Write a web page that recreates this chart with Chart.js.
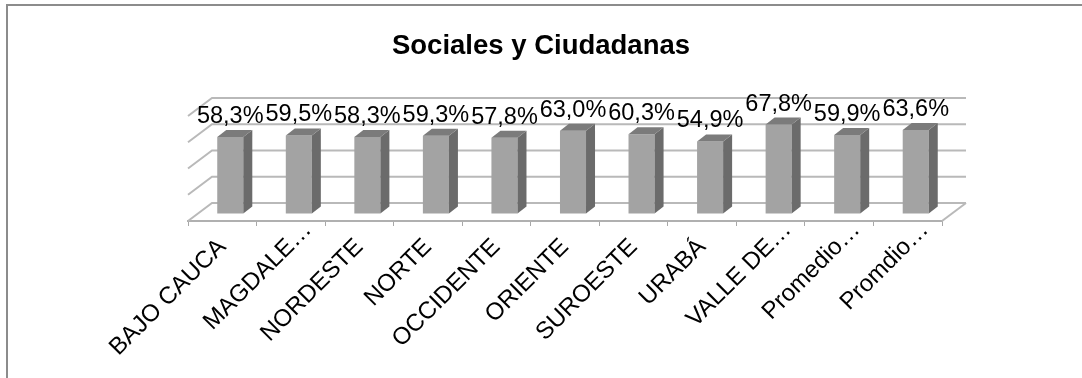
<!DOCTYPE html>
<html>
<head>
<meta charset="utf-8">
<title>Sociales y Ciudadanas</title>
<script src="https://cdn.jsdelivr.net/npm/chart.js@4/dist/chart.umd.min.js"></script>
<style>
    html, body { margin: 0; padding: 0; background: #fff; overflow: hidden; }
    #wrap { position: relative; width: 1082px; height: 378px; }
    #frame { position: absolute; left: 6px; top: 4px; right: 0; bottom: 0; border-left: 2px solid #8c8c8c; border-top: 2px solid #8c8c8c; }
    #chart { position: absolute; left: 0; top: 0; filter: blur(0.5px); }
</style>
</head>
<body>
<div id="wrap">
    <div id="frame"></div>
    <canvas id="chart" width="1082" height="378"></canvas>
</div>
<script>
const categories = ['BAJO CAUCA', 'MAGDALE…', 'NORDESTE', 'NORTE', 'OCCIDENTE', 'ORIENTE', 'SUROESTE', 'URABÁ', 'VALLE DE…', 'Promedio…', 'Promdio…'];
const values = [58.3, 59.5, 58.3, 59.3, 57.8, 63.0, 60.3, 54.9, 67.8, 59.9, 63.6];

const FONT = '"Liberation Sans", Arial, sans-serif';

// depth of the fake 3D box: the back wall and the bars sit behind the axis plane
const wallDepth = { x: 24, y: 18 };
const barShift = { x: 8, y: 7.5 };
const barDepth = { x: 9, y: 7 };

function poly(ctx, pts, fill) {
    ctx.beginPath();
    pts.forEach((p, i) => i ? ctx.lineTo(p[0], p[1]) : ctx.moveTo(p[0], p[1]));
    ctx.closePath();
    ctx.fillStyle = fill;
    ctx.fill();
}

const box3d = {
    id: 'box3d',
    afterLayout(chart) {
        // truncated labels hang their ellipsis past the tick, as in the original
        chart.scales.x.getLabelItems().forEach(item => {
            if (String(item.label).endsWith('…')) {
                const tr = item.options.translation;
                item.options.translation = [tr[0] + 17, tr[1] - 17];
            }
        });
    },
    beforeDatasetsDraw(chart) {
        const ctx = chart.ctx;
        const area = chart.chartArea;
        const yScale = chart.scales.y;
        // walls: one line per tick of the value axis
        ctx.save();
        ctx.strokeStyle = '#b9b9b9';
        ctx.lineWidth = 2;
        yScale.ticks.forEach(t => {
            const py = yScale.getPixelForValue(t.value);
            ctx.beginPath();
            ctx.moveTo(area.left, py);
            ctx.lineTo(area.left + wallDepth.x, py - wallDepth.y);
            ctx.lineTo(area.right + wallDepth.x, py - wallDepth.y);
            ctx.stroke();
        });
        // floor edge on the right
        ctx.beginPath();
        ctx.moveTo(area.right, area.bottom);
        ctx.lineTo(area.right + wallDepth.x, area.bottom - wallDepth.y);
        ctx.stroke();
        ctx.restore();
        // bars are drawn shifted back, restored in afterDatasetsDraw
        ctx.save();
        ctx.translate(barShift.x, -barShift.y);
    },
    afterDatasetsDraw(chart) {
        const ctx = chart.ctx;
        const meta = chart.getDatasetMeta(0);
        meta.data.forEach(bar => {
            const r = bar.x + bar.width / 2;
            const l = bar.x - bar.width / 2;
            const dx = barDepth.x;
            const dy = barDepth.y;
            poly(ctx, [[r, bar.y], [r + dx, bar.y - dy], [r + dx, bar.base - dy], [r, bar.base]], '#6b6b6b');
            poly(ctx, [[l, bar.y], [l + dx, bar.y - dy], [r + dx, bar.y - dy], [r, bar.y]], '#7b7b7b');
        });
        ctx.restore();
        // value labels
        ctx.save();
        ctx.font = '23.5px ' + FONT;
        ctx.fillStyle = '#000';
        ctx.textAlign = 'center';
        ctx.textBaseline = 'alphabetic';
        meta.data.forEach((bar, i) => {
            const txt = values[i].toFixed(1).replace('.', ',') + '%';
            ctx.fillText(txt, bar.x + barShift.x, bar.y - barShift.y - 14);
        });
        ctx.restore();
    }
};

new Chart(document.getElementById('chart'), {
    type: 'bar',
    data: {
        labels: categories,
        datasets: [{
            data: values,
            backgroundColor: '#a3a3a3',
            borderWidth: 0,
            categoryPercentage: 1,
            barPercentage: 0.38,
            clip: false
        }]
    },
    options: {
        responsive: false,
        animation: false,
        layout: { padding: { left: 140, right: 140, top: 0, bottom: 0 } },
        plugins: {
            legend: { display: false },
            tooltip: { enabled: false },
            title: {
                display: true,
                text: 'Sociales y Ciudadanas',
                color: '#000',
                font: { family: FONT, size: 27.5, weight: 'bold' },
                padding: { top: 30, bottom: 53 }
            }
        },
        scales: {
            x: {
                afterFit(scale) { scale.height = 378 - 221; },
                border: { color: '#b0b0b0', width: 2 },
                grid: { drawOnChartArea: false, drawTicks: true, tickLength: 5, color: '#a8a8a8' },
                ticks: {
                    autoSkip: false,
                    minRotation: 45,
                    maxRotation: 45,
                    color: '#000',
                    padding: 7,
                    font: { family: FONT, size: 24 }
                }
            },
            y: {
                min: 0,
                max: 80,
                afterFit(scale) { scale.width = 48; },
                border: { display: false },
                grid: { display: false },
                ticks: { stepSize: 20, display: false }
            }
        }
    },
    plugins: [box3d]
});
</script>
</body>
</html>
